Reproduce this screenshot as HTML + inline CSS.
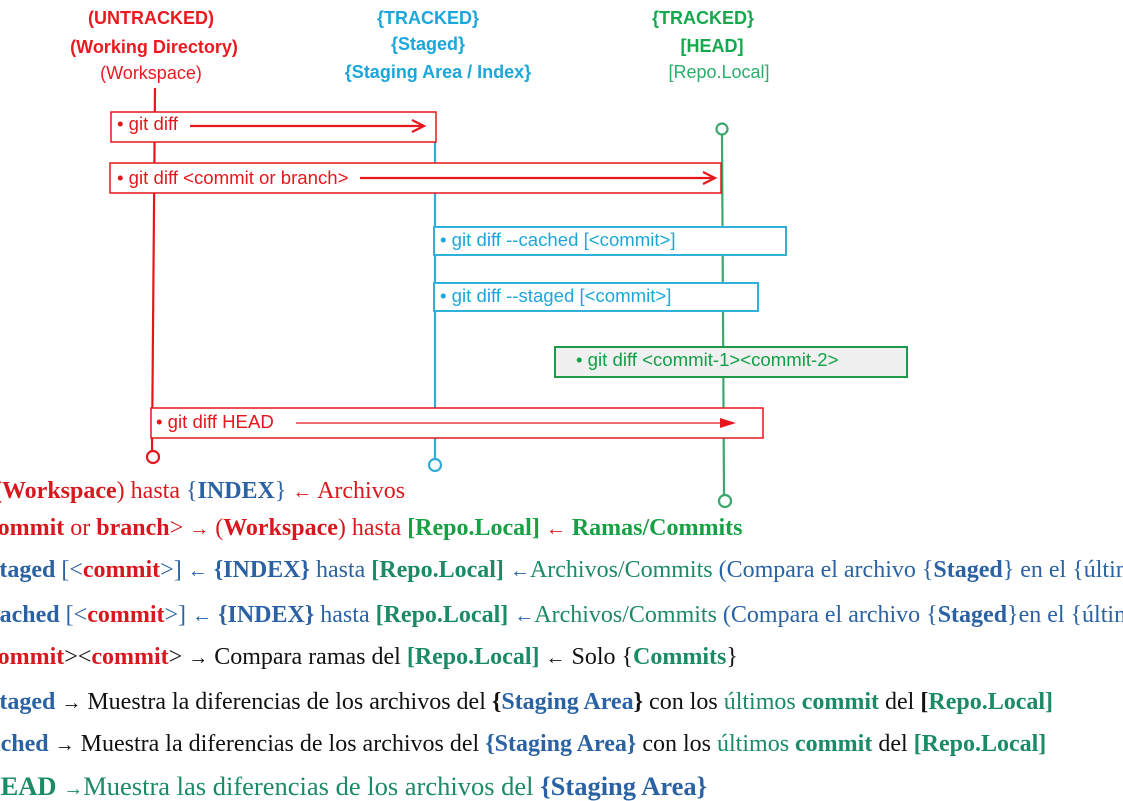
<!DOCTYPE html>
<html><head><meta charset="utf-8"><style>
body{margin:0;width:1123px;height:795px;overflow:hidden;background:#fff;position:relative}
.h{position:absolute;font-family:"Liberation Sans",sans-serif;font-size:18px;text-align:center;white-space:nowrap;transform:translateX(-50%)}
.t{position:absolute;font-family:"Liberation Serif",serif;font-size:24px;white-space:nowrap;line-height:1}
.r{color:#d7191f}.b{color:#2b62a3}.g{color:#17a044}.tg{color:#1b8a66}.k{color:#111}
b{font-weight:bold}
small{font-size:20px}
</style></head><body>
<div class="h" style="left:151px;top:8px;color:#ea1a20;font-weight:bold">(UNTRACKED)</div>
<div class="h" style="left:154px;top:37px;color:#ea1a20;font-weight:bold">(Working Directory)</div>
<div class="h" style="left:151px;top:63px;color:#ea1a20">(Workspace)</div>
<div class="h" style="left:428px;top:8px;color:#1ca6da;font-weight:bold">{TRACKED}</div>
<div class="h" style="left:428px;top:34px;color:#1ca6da;font-weight:bold">{Staged}</div>
<div class="h" style="left:438px;top:62px;color:#1ca6da;font-weight:bold">{Staging Area / Index}</div>
<div class="h" style="left:703px;top:8px;color:#15a84c;font-weight:bold">{TRACKED}</div>
<div class="h" style="left:712px;top:36px;color:#15a84c;font-weight:bold">[HEAD]</div>
<div class="h" style="left:719px;top:62px;color:#2aae6a">[Repo.Local]</div>
<svg width="1123" height="795" style="position:absolute;left:0;top:0" font-family="Liberation Sans, sans-serif" font-size="18.6">
<g fill="none" stroke-width="2.2">
<line x1="155" y1="88" x2="152" y2="451" stroke="#e5171d"/>
<circle cx="153" cy="457" r="6" stroke="#e5171d"/>
<line x1="435" y1="115" x2="435" y2="459" stroke="#33abd6"/>
<circle cx="435" cy="465" r="6" stroke="#33abd6"/>
<line x1="722" y1="135" x2="724" y2="495" stroke="#3aa86c"/>
<circle cx="722" cy="129" r="5.5" stroke="#3aa86c"/>
<circle cx="725" cy="501" r="6" stroke="#3aa86c"/>
</g>
<g stroke-width="1.5">
<rect x="111" y="112" width="325" height="30" fill="#fff" stroke="#e5171d"/>
<rect x="110" y="163" width="611" height="30" fill="#fff" stroke="#e5171d"/>
<rect x="434" y="227" width="352" height="28" fill="#fff" stroke="#2fb1dc" stroke-width="2"/>
<rect x="434" y="283" width="324" height="28" fill="#fff" stroke="#2fb1dc" stroke-width="2"/>
<rect x="555" y="347" width="352" height="30" fill="#f0f0f0" stroke="#1f9a48" stroke-width="2"/>
<rect x="151" y="408" width="612" height="30" fill="#fff" stroke="#e5171d"/>
</g>
<g stroke="#e5171d" stroke-width="2.2" fill="none">
<line x1="190" y1="126" x2="424" y2="126"/><polyline points="412,120 424,126 412,132"/>
<line x1="360" y1="178" x2="715" y2="178"/><polyline points="703,172 715,178 703,184"/>
</g>
<line x1="296" y1="423" x2="724" y2="423" stroke="#e5171d" stroke-width="1.3"/>
<polygon points="736,423 720,418 720,428" fill="#e5171d"/>
<text x="117" y="130" fill="#e5171d">• git diff</text>
<text x="117" y="184" fill="#e5171d">• git diff &lt;commit or branch&gt;</text>
<text x="440" y="246" fill="#1ca6da">• git diff --cached [&lt;commit&gt;]</text>
<text x="440" y="302" fill="#1ca6da">• git diff --staged [&lt;commit&gt;]</text>
<text x="576" y="366" fill="#11a047">• git diff &lt;commit-1&gt;&lt;commit-2&gt;</text>
<text x="156" y="428" fill="#e5171d">• git diff HEAD</text>
</svg>
<div class="t r" style="left:-6px;top:479px"><b>(Workspace</b>) hasta <span class="b">{<b>INDEX</b>}</span> <small>←</small> Archivos</div>
<div class="t r" style="left:-13px;top:516px"><b>commit</b> or <b>branch</b>&gt; <small>→</small> (<b>Workspace</b>) hasta <b class="g">[Repo.Local]</b> <small>←</small> <b class="g">Ramas/Commits</b></div>
<div class="t b" style="left:-10px;top:558px"><b>staged</b> [&lt;<b class="r">commit</b>&gt;] <small>←</small> <b>{INDEX}</b> hasta <b class="tg">[Repo.Local]</b> <small>←</small><span class="tg">Archivos/Commits</span> (Compara el archivo {<b>Staged</b>} en el {últimos</div>
<div class="t b" style="left:-11px;top:603px"><b>cached</b> [&lt;<b class="r">commit</b>&gt;] <small>←</small> <b>{INDEX}</b> hasta <b class="tg">[Repo.Local]</b> <small>←</small><span class="tg">Archivos/Commits</span> (Compara el archivo {<b>Staged</b>}en el {últimos</div>
<div class="t k" style="left:-13px;top:645px"><b class="r">commit</b>&gt;&lt;<b class="r">commit</b>&gt; <small>→</small> Compara ramas del <b class="tg">[Repo.Local]</b> <small>←</small> Solo {<b class="tg">Commits</b>}</div>
<div class="t k" style="left:-10px;top:690px"><b class="b">staged</b> <small>→</small> Muestra la diferencias de los archivos del <b>{</b><b class="b">Staging Area</b><b>}</b> con los <span class="tg">últimos</span> <b class="tg">commit</b> del <b>[</b><b class="tg">Repo.Local]</b></div>
<div class="t k" style="left:-22px;top:732px"><b class="b">cached</b> <small>→</small> Muestra la diferencias de los archivos del <b class="b">{Staging Area}</b> con los <span class="tg">últimos</span> <b class="tg">commit</b> del <b class="tg">[Repo.Local]</b></div>
<div class="t tg" style="left:-20px;top:773px;font-size:26.5px"><b>HEAD</b> <small>→</small>Muestra las diferencias de los archivos del <b class="b">{Staging Area}</b></div>
</body></html>
